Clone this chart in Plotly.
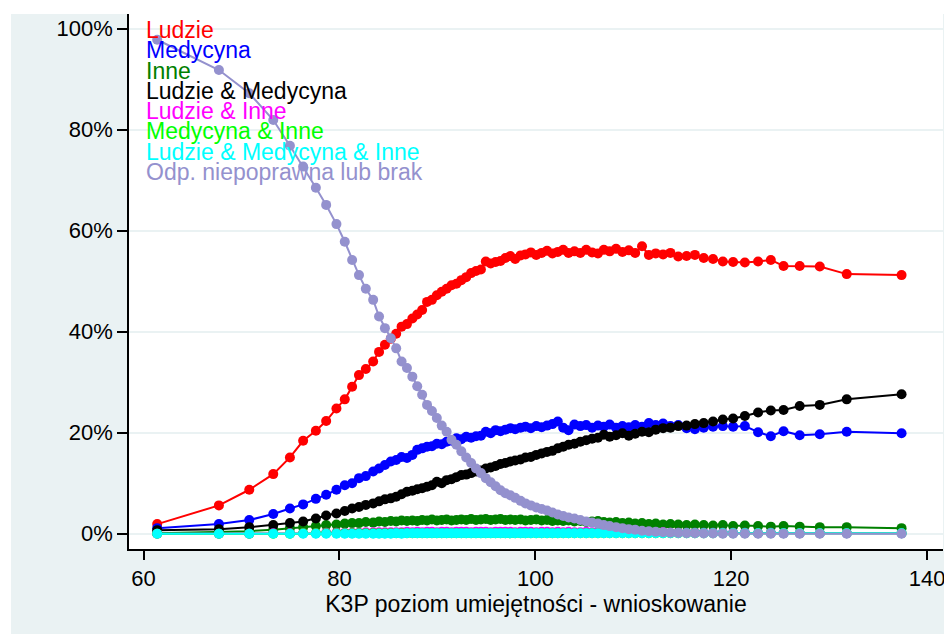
import plotly.graph_objects as go

# ---- data ----
names = ["Ludzie", "Medycyna", "Inne", "Ludzie & Medycyna", "Ludzie & Inne",
         "Medycyna & Inne", "Ludzie & Medycyna & Inne", "Odp. niepoprawna lub brak"]
colors = ["#FF0000", "#0000FF", "#008000", "#000000", "#FF00FF",
          "#00FF00", "#00FFFF", "#9491CE"]

x_score = [
    61.4, 67.7, 70.8, 73.25, 74.95, 76.3, 77.6, 78.65, 79.7, 80.55,
    81.3, 82.0, 82.7, 83.45, 84.05, 84.65, 85.25, 85.8, 86.35, 86.9,
    87.45, 87.95, 88.45, 88.95, 89.45, 89.95, 90.45, 90.95, 91.45, 91.95,
    92.45, 92.95, 93.45, 93.95, 94.45, 94.95, 95.45, 95.95, 96.45, 96.95,
    97.45, 97.95, 98.5, 99.0, 99.55, 100.1, 100.65, 101.2, 101.75, 102.3,
    102.85, 103.4, 104.0, 104.6, 105.2, 105.8, 106.4, 107.0, 107.6, 108.25,
    108.9, 109.55, 110.2, 110.9, 111.6, 112.3, 113.05, 113.8, 114.6, 115.45,
    116.3, 117.2, 118.15, 119.15, 120.2, 121.4, 122.75, 124.05, 125.35, 127.0,
    129.05, 131.8, 137.4]

ludzie = [
    1.9, 5.6, 8.7, 11.8, 15.1, 18.4, 20.4, 22.3, 24.8, 26.6,
    29.1, 31.4, 32.6, 34.1, 36.0, 37.4, 38.6, 39.6, 41.0, 41.5,
    42.6, 43.4, 44.3, 45.9, 46.3, 47.2, 47.9, 48.5, 49.2, 49.5,
    50.2, 50.8, 51.6, 52.0, 52.3, 53.9, 53.5, 53.8, 54.0, 54.6,
    55.0, 54.4, 55.1, 55.3, 55.7, 55.2, 55.6, 56.0, 55.5, 55.8,
    56.2, 55.6, 55.9, 55.6, 56.2, 55.7, 55.5, 56.2, 55.9, 56.4,
    55.8, 56.1, 55.6, 56.9, 55.2, 55.5, 55.3, 55.6, 54.9, 55.0,
    55.2, 54.6, 54.4, 53.9, 53.8, 53.7, 53.9, 54.2, 53.0, 53.0,
    52.9, 51.4, 51.2]

medycyna = [
    1.1, 1.9, 2.7, 3.9, 5.0, 5.8, 6.9, 7.7, 8.7, 9.6,
    10.0, 11.0, 11.4, 12.3, 12.9, 13.6, 14.3, 14.6, 15.2, 15.0,
    15.6, 16.6, 16.9, 17.2, 17.3, 17.8, 17.7, 18.2, 18.4, 18.9,
    18.7, 19.2, 19.0, 19.3, 19.4, 20.2, 19.9, 20.5, 20.3, 20.6,
    20.9, 20.7, 21.0, 21.2, 20.9, 21.3, 21.1, 21.4, 21.7, 22.2,
    21.0, 20.5, 21.6, 21.3, 21.5, 21.0, 21.4, 21.2, 21.6, 21.0,
    21.3, 21.1, 21.5, 21.2, 21.9, 21.5, 21.8, 21.3, 21.5, 20.9,
    20.7, 21.0, 21.2, 21.3, 21.2, 21.3, 20.1, 19.3, 20.3, 19.5,
    19.7, 20.2, 19.9]

inne = [
    0.1, 0.3, 0.5, 0.8, 1.1, 1.3, 1.5, 1.7, 1.8, 2.0,
    2.1, 2.1, 2.3, 2.2, 2.4, 2.3, 2.5, 2.4, 2.6, 2.5,
    2.6, 2.5, 2.7, 2.6, 2.8, 2.6, 2.7, 2.8, 2.6, 2.7,
    2.8, 2.7, 2.9, 2.7, 2.8, 2.9, 2.7, 2.8, 2.9, 2.7,
    2.8, 2.7, 2.8, 2.6, 2.7, 2.8, 2.6, 2.7, 2.5, 2.6,
    2.5, 2.6, 2.4, 2.5, 2.3, 2.4, 2.5, 2.3, 2.2, 2.3,
    2.1, 2.2, 2.0, 2.1, 1.9, 2.0, 1.8, 1.9, 1.8, 1.7,
    1.8, 1.7, 1.6, 1.7, 1.5, 1.6, 1.5, 1.4, 1.5, 1.4,
    1.3, 1.3, 1.1]

ludzie_medycyna = [
    0.7, 0.9, 1.3, 1.7, 2.1, 2.4, 3.0, 3.6, 4.0, 4.5,
    5.0, 5.3, 5.7, 6.0, 6.4, 6.8, 7.0, 7.3, 7.8, 8.3,
    8.5, 8.8, 9.0, 9.3, 9.6, 10.3, 10.0, 10.6, 10.8, 11.2,
    11.6, 11.7, 12.0, 12.3, 12.5, 12.9, 13.1, 13.4, 13.8, 14.0,
    14.3, 14.5, 14.7, 15.1, 15.2, 15.6, 15.9, 16.2, 16.4, 16.9,
    17.2, 17.6, 17.8, 18.2, 18.5, 18.8, 19.0, 19.6, 19.2, 19.5,
    19.9, 19.4, 19.8, 20.2, 20.1, 20.6, 20.9, 21.0, 21.3, 21.4,
    21.7, 21.9, 22.2, 22.6, 22.8, 23.3, 24.0, 24.4, 24.5, 25.3,
    25.5, 26.6, 27.6]

ludzie_inne = [
    0.0, 0.0, 0.0, 0.1, 0.1, 0.1, 0.1, 0.2, 0.2, 0.2,
    0.2, 0.2, 0.3, 0.3, 0.3, 0.3, 0.3, 0.3, 0.3, 0.4,
    0.3, 0.4, 0.3, 0.4, 0.4, 0.3, 0.4, 0.4, 0.3, 0.4,
    0.4, 0.4, 0.3, 0.4, 0.4, 0.4, 0.3, 0.4, 0.4, 0.4,
    0.4, 0.3, 0.4, 0.4, 0.4, 0.3, 0.4, 0.4, 0.3, 0.4,
    0.3, 0.4, 0.3, 0.3, 0.4, 0.3, 0.3, 0.3, 0.3, 0.3,
    0.3, 0.3, 0.2, 0.3, 0.3, 0.2, 0.3, 0.2, 0.2, 0.2,
    0.2, 0.2, 0.2, 0.2, 0.2, 0.2, 0.1, 0.2, 0.1, 0.1,
    0.1, 0.1, 0.1]

medycyna_inne = [
    0.0, 0.0, 0.0, 0.0, 0.0, 0.1, 0.1, 0.1, 0.1, 0.1,
    0.1, 0.1, 0.1, 0.1, 0.1, 0.1, 0.1, 0.1, 0.1, 0.1,
    0.1, 0.1, 0.1, 0.1, 0.1, 0.1, 0.1, 0.1, 0.1, 0.1,
    0.1, 0.1, 0.1, 0.1, 0.1, 0.1, 0.1, 0.1, 0.1, 0.1,
    0.1, 0.1, 0.1, 0.1, 0.1, 0.1, 0.1, 0.1, 0.1, 0.1,
    0.1, 0.1, 0.1, 0.1, 0.1, 0.1, 0.1, 0.1, 0.1, 0.1,
    0.1, 0.1, 0.1, 0.1, 0.1, 0.1, 0.1, 0.1, 0.1, 0.1,
    0.1, 0.1, 0.1, 0.1, 0.1, 0.1, 0.1, 0.1, 0.1, 0.1,
    0.1, 0.1, 0.1]

ludzie_medycyna_inne = [
    0.0, 0.0, 0.0, 0.0, 0.0, 0.0, 0.0, 0.0, 0.0, 0.0,
    0.0, 0.0, 0.0, 0.0, 0.0, 0.0, 0.0, 0.1, 0.0, 0.1,
    0.1, 0.1, 0.1, 0.1, 0.1, 0.1, 0.1, 0.1, 0.1, 0.1,
    0.1, 0.1, 0.1, 0.1, 0.1, 0.1, 0.1, 0.1, 0.1, 0.1,
    0.1, 0.1, 0.1, 0.1, 0.1, 0.1, 0.1, 0.1, 0.1, 0.1,
    0.1, 0.1, 0.1, 0.1, 0.1, 0.1, 0.1, 0.1, 0.1, 0.1,
    0.1, 0.1, 0.1, 0.1, 0.1, 0.1, 0.1, 0.1, 0.1, 0.1,
    0.1, 0.1, 0.1, 0.1, 0.1, 0.1, 0.1, 0.1, 0.1, 0.1,
    0.1, 0.1, 0.1]

odp_brak = [
    97.8, 91.8, 87.2, 81.9, 76.8, 72.7, 68.5, 65.1, 61.3, 57.8,
    54.2, 51.2, 48.5, 46.3, 43.0, 40.7, 38.7, 36.7, 34.1, 32.8,
    31.1, 29.2, 27.5, 25.5, 24.3, 22.9, 21.4, 20.2, 18.6, 17.6,
    16.3, 15.1, 14.0, 12.9, 12.0, 11.0, 10.2, 9.4, 8.6, 8.0,
    7.6, 7.1, 6.5, 6.0, 5.6, 5.2, 4.9, 4.6, 4.2, 3.8,
    3.5, 3.2, 3.0, 2.7, 2.4, 2.2, 2.0, 1.7, 1.5, 1.3,
    1.1, 0.9, 0.8, 0.6, 0.5, 0.4, 0.3, 0.2, 0.15, 0.1,
    0.1, 0.05, 0.05, 0.0, 0.0, 0.0, 0.0, 0.0, 0.0, 0.0,
    0.0, 0.0, 0.0]

series = [ludzie, medycyna, inne, ludzie_medycyna, ludzie_inne,
          medycyna_inne, ludzie_medycyna_inne, odp_brak]

x_ticks = [60, 80, 100, 120, 140]
y_ticks = [0, 20, 40, 60, 80, 100]
y_tick_labels = ["0%", "20%", "40%", "60%", "80%", "100%"]
x_title = "K3P poziom umiejętności - wnioskowanie"

FONT = "Liberation Sans, Arial, Helvetica, sans-serif"
BG = "#EAF2F3"

# page places the figure at (8, 8); figure is 944 x 626
OFF = 8
L, R, T, B = 129 - OFF, 9, 14 - OFF, 85
W, H = 814, 535  # plot area in pixels

fig = go.Figure()
for name, col, ys in zip(names, colors, series):
    fig.add_trace(go.Scatter(
        x=x_score, y=ys, name=name, mode="lines+markers",
        line=dict(color=col, width=2),
        marker=dict(color=col, size=10, line=dict(width=0)),
        showlegend=False))

# legend drawn as coloured text labels (Stata style, inside plot region)
for i, (name, col) in enumerate(zip(names, colors)):
    ypx = 30 + i * 20.3
    fig.add_annotation(
        x=(144 - 129) / W, y=(549 - ypx) / H, xref="paper", yref="paper",
        text=name, showarrow=False, xanchor="left", yanchor="middle",
        font=dict(family=FONT, size=23, color=col))

# white outer margin (top and left) of the original image
fig.add_shape(type="rect", xref="paper", yref="paper", layer="below",
              x0=-0.3, x1=1.3, y0=1.0, y1=1.2, fillcolor="white", line=dict(width=0))
fig.add_shape(type="rect", xref="paper", yref="paper", layer="below",
              x0=-0.3, x1=(11 - 129) / W, y0=-0.3, y1=1.2, fillcolor="white", line=dict(width=0))

fig.update_layout(
    width=952 - OFF, height=634 - OFF,
    margin=dict(l=L, r=R, t=T, b=B),
    paper_bgcolor=BG, plot_bgcolor="white",
    font=dict(family=FONT, color="black"),
    xaxis=dict(
        range=[58.52, 141.63], tickvals=x_ticks, ticks="outside", ticklen=9,
        tickwidth=1.5, tickcolor="black", showline=True, linecolor="black",
        linewidth=1.5, showgrid=False, zeroline=False,
        tickfont=dict(size=22, family=FONT, color="black"),
        title=dict(text=x_title, font=dict(size=23, family=FONT, color="black"), standoff=2)),
    yaxis=dict(
        range=[-3.03, 102.9], tickvals=y_ticks, ticktext=y_tick_labels, ticks="outside",
        ticklen=10, tickwidth=1.5, tickcolor="black", showline=True,
        linecolor="black", linewidth=1.5, showgrid=True, gridcolor=BG,
        gridwidth=2, zeroline=False,
        tickfont=dict(size=22, family=FONT, color="black")),
)

fig.write_html("out.html")
